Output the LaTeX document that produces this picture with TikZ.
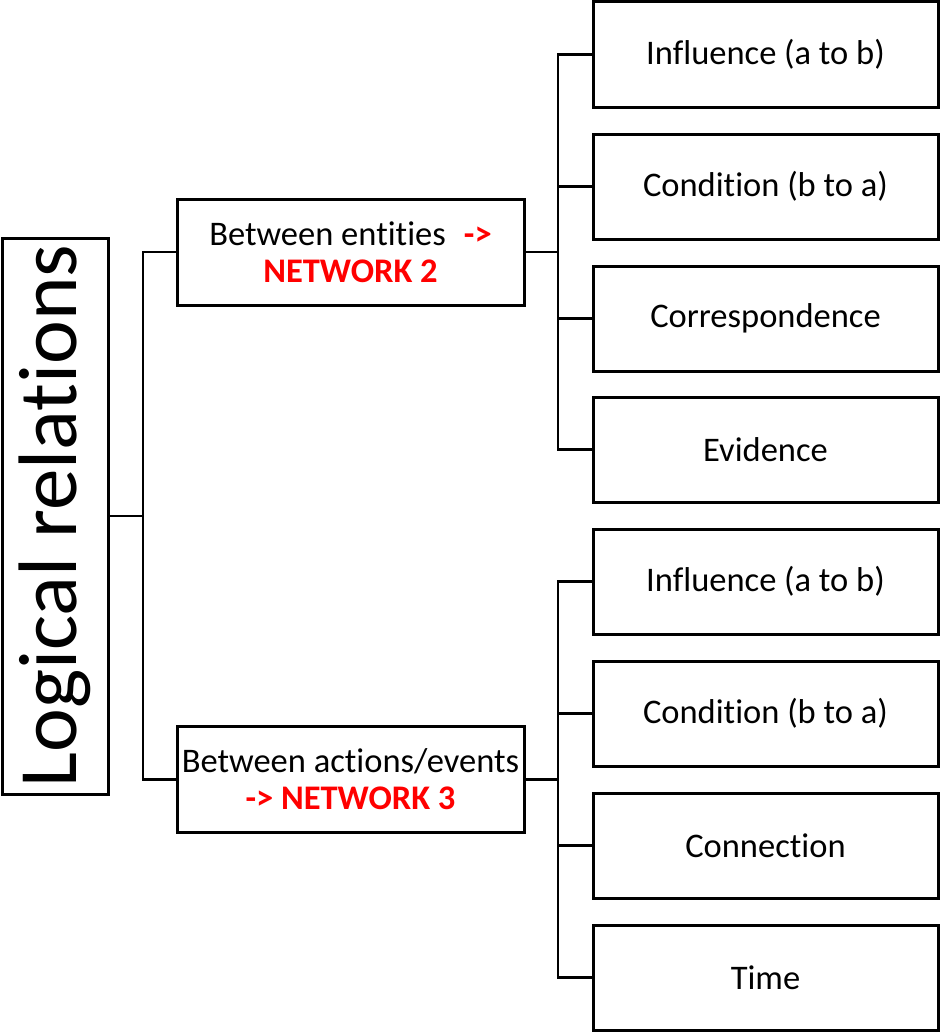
\documentclass[tikz,border=0pt]{standalone}
\usepackage{fontspec}
\setmainfont[Ligatures={NoCommon}]{Carlito}
\definecolor{netred}{RGB}{255,0,0}
\begin{document}
\begin{tikzpicture}[x=1pt,y=-1pt,
  box/.style={draw=black,line width=3pt,fill=white,inner sep=0pt,align=center,font=\fontsize{34.5}{37}\selectfont},
  leaf/.style={box,minimum width=345pt,minimum height=105pt},
  mid/.style={box,minimum width=347pt,minimum height=106pt},
  conn/.style={line width=2.5pt}]
\useasboundingbox (0,0) rectangle (940,1033);
\node[box,minimum width=106pt,minimum height=556pt] (root) at (55,516) {};
\node[rotate=90,font=\fontsize{83}{90}\selectfont] (roottxt) at (55,516) {Logical relations};
\node[mid] (ent) at (350.5,252) {Between entities\hspace{0.3em} \textcolor{netred}{\bfseries ->}\\\textcolor{netred}{\bfseries NETWORK 2}};
\node[mid] (act) at (350.5,779.5) {Between actions/events\\\textcolor{netred}{\bfseries -> NETWORK 3}};
\node[leaf] (e1) at (765.5,54.5) {Influence (a to b)};
\node[leaf] (e2) at (765.5,186.5) {Condition (b to a)};
\node[leaf] (e3) at (765.5,318.5) {Correspondence};
\node[leaf] (e4) at (765.5,449.5) {Evidence};
\node[leaf] (a1) at (765.5,581.5) {Influence (a to b)};
\node[leaf] (a2) at (765.5,713.5) {Condition (b to a)};
\node[leaf] (a3) at (765.5,845.5) {Connection};
\node[leaf] (a4) at (765.5,977.5) {Time};
\coordinate (rb) at (143,516);
\draw[conn] (root.east) -- (rb);
\draw[conn] (rb) |- (ent.west);
\draw[conn] (rb) |- (act.west);
\coordinate (eb) at (558,252);
\draw[conn] (ent.east) -- (eb);
\foreach \n in {e1,e2,e3,e4} \draw[conn] (eb) |- (\n.west);
\coordinate (ab) at (558,779.5);
\draw[conn] (act.east) -- (ab);
\foreach \n in {a1,a2,a3,a4} \draw[conn] (ab) |- (\n.west);
\end{tikzpicture}
\end{document}
